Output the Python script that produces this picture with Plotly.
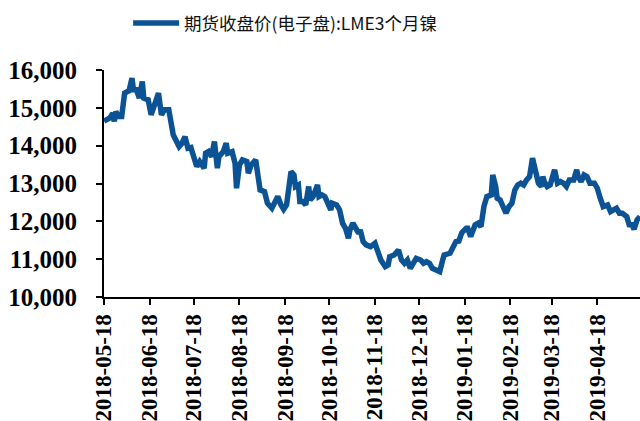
import plotly.graph_objects as go

series_name = "期货收盘价(电子盘):LME3个月镍"

dates = [
    "2018-05-18", "2018-05-22", "2018-05-24", "2018-05-25", "2018-05-26", "2018-05-28",
    "2018-05-30", "2018-06-01", "2018-06-04", "2018-06-06", "2018-06-07", "2018-06-09",
    "2018-06-11", "2018-06-13", "2018-06-14", "2018-06-17", "2018-06-19", "2018-06-21",
    "2018-06-24", "2018-06-26", "2018-06-28", "2018-07-01", "2018-07-04", "2018-07-08",
    "2018-07-10", "2018-07-12", "2018-07-14", "2018-07-16", "2018-07-18", "2018-07-20",
    "2018-07-22", "2018-07-25", "2018-07-26", "2018-07-28", "2018-07-30", "2018-08-01",
    "2018-08-03", "2018-08-04", "2018-08-07", "2018-08-09", "2018-08-10", "2018-08-13",
    "2018-08-15", "2018-08-16", "2018-08-18", "2018-08-20", "2018-08-23", "2018-08-24",
    "2018-08-26", "2018-08-29", "2018-08-30", "2018-09-01", "2018-09-04", "2018-09-06",
    "2018-09-09", "2018-09-11", "2018-09-13", "2018-09-15", "2018-09-17", "2018-09-19",
    "2018-09-21", "2018-09-22", "2018-09-24", "2018-09-25", "2018-09-27", "2018-09-28",
    "2018-09-30", "2018-10-02", "2018-10-04", "2018-10-05", "2018-10-07", "2018-10-10",
    "2018-10-11", "2018-10-13", "2018-10-15", "2018-10-17", "2018-10-19", "2018-10-20",
    "2018-10-23", "2018-10-25", "2018-10-27", "2018-10-29", "2018-10-31", "2018-11-01",
    "2018-11-03", "2018-11-05", "2018-11-07", "2018-11-08", "2018-11-10", "2018-11-12",
    "2018-11-15", "2018-11-18", "2018-11-20", "2018-11-22", "2018-11-25", "2018-11-27",
    "2018-11-28", "2018-12-01", "2018-12-04", "2018-12-06", "2018-12-08", "2018-12-10",
    "2018-12-12", "2018-12-14", "2018-12-16", "2018-12-19", "2018-12-21", "2018-12-23",
    "2018-12-25", "2018-12-27", "2018-12-30", "2019-01-01", "2019-01-03", "2019-01-04",
    "2019-01-08", "2019-01-10", "2019-01-12", "2019-01-14", "2019-01-16", "2019-01-19",
    "2019-01-20", "2019-01-22", "2019-01-25", "2019-01-27", "2019-01-29", "2019-01-31",
    "2019-02-02", "2019-02-05", "2019-02-06", "2019-02-08", "2019-02-09", "2019-02-11",
    "2019-02-13", "2019-02-15", "2019-02-17", "2019-02-19", "2019-02-21", "2019-02-23",
    "2019-02-25", "2019-02-27", "2019-03-01", "2019-03-03", "2019-03-05", "2019-03-07",
    "2019-03-09", "2019-03-11", "2019-03-12", "2019-03-13", "2019-03-15", "2019-03-17",
    "2019-03-20", "2019-03-22", "2019-03-24", "2019-03-26", "2019-03-28", "2019-03-30",
    "2019-04-02", "2019-04-04", "2019-04-05", "2019-04-07", "2019-04-09", "2019-04-11",
    "2019-04-13", "2019-04-16", "2019-04-18", "2019-04-20", "2019-04-22", "2019-04-25",
    "2019-04-27", "2019-04-29", "2019-05-01", "2019-05-03", "2019-05-05", "2019-05-08",
    "2019-05-10", "2019-05-11", "2019-05-13", "2019-05-15", "2019-05-17",
]

values = [
    14650, 14735, 14860, 14640, 14900, 14770,
    14770, 15390, 15450, 15786, 15476, 15476,
    15257, 15696, 15257, 15212, 14815, 15080,
    15390, 14815, 14947, 14947, 14286, 13976,
    14066, 14240, 13933, 13950, 13650, 13450,
    13580, 13404, 13800, 13844, 13711, 14108,
    13404, 13711, 13844, 14066, 13800, 13844,
    13536, 12875, 13492, 13624, 13580, 13272,
    13492, 13624, 13360, 12830, 12786, 12478,
    12346, 12478, 12654, 12450, 12320, 12440,
    13008, 13316, 13228, 12919, 12963, 12522,
    12522, 12434, 12919, 12566, 12654, 12963,
    12654, 12698, 12654, 12478, 12302, 12478,
    12434, 12302, 11950, 11817, 11553, 11773,
    11950, 11817, 11685, 11773, 11464, 11376,
    11331, 11420, 11220, 10979, 10802, 10847,
    11066, 11111, 11243, 10979, 10891, 10979,
    10759, 10935, 11023, 10979, 10891, 10935,
    10891, 10759, 10714, 10669, 10979, 11111,
    11155, 11331, 11464, 11480, 11700, 11817,
    11817, 11596, 11905, 11950, 11861, 12390,
    12654, 12698, 13228, 12919, 12610, 12566,
    12390, 12214, 12390, 12478, 12830, 12963,
    13008, 12963, 13095, 13183, 13669, 13272,
    13008, 12919, 13183, 13051, 12919, 12963,
    13360, 13008, 13051, 13008, 12919, 13095,
    13095, 13360, 13183, 13051, 13228, 13183,
    13008, 13008, 12875, 12610, 12390, 12434,
    12258, 12302, 12346, 12214, 12214, 12125,
    11861, 11950, 11790, 12037, 12125,
]

tick_dates = [
    "2018-05-18", "2018-06-18", "2018-07-18", "2018-08-18", "2018-09-18", "2018-10-18",
    "2018-11-18", "2018-12-18", "2019-01-18", "2019-02-18", "2019-03-18", "2019-04-18",
]
y_ticks = [10000, 11000, 12000, 13000, 14000, 15000, 16000]

fig = go.Figure()
fig.add_trace(go.Scatter(
    x=dates, y=values, mode="lines", name=series_name,
    line=dict(color="#0B5394", width=5.5),
))

fig.update_layout(
    width=640, height=421,
    margin=dict(l=104, r=0, t=70, b=124, autoexpand=False),
    paper_bgcolor="white", plot_bgcolor="white",
    showlegend=True,
    legend=dict(
        orientation="h", x=0.045, y=1.207, xanchor="left", yanchor="middle",
        itemwidth=46,
        font=dict(family="Noto Sans CJK SC", size=17.5, color="#111111"),
        bgcolor="rgba(0,0,0,0)",
    ),
    xaxis=dict(
        type="date",
        range=["2018-05-18", "2019-05-17"],
        tickvals=tick_dates,
        ticktext=tick_dates,
        tickangle=-90,
        tickfont=dict(family="Liberation Serif", size=23, color="black", weight="bold"),
        automargin=False,
        showgrid=False, zeroline=False,
        showline=True, linecolor="black", linewidth=2,
        ticks="outside", ticklen=6, tickwidth=2, tickcolor="black",
    ),
    yaxis=dict(
        range=[10000, 16000],
        tickvals=y_ticks,
        tickformat=",",
        tickfont=dict(family="Liberation Serif", size=25, color="black", weight="bold"),
        ticklabelstandoff=14,
        automargin=False,
        showgrid=False, zeroline=False,
        showline=True, linecolor="black", linewidth=2,
        ticks="outside", ticklen=6, tickwidth=2, tickcolor="black",
    ),
)

fig.write_html(
    "out.html",
    config={"displayModeBar": False},
    post_script="document.body.style.margin='0';document.body.style.overflow='hidden';",
)
